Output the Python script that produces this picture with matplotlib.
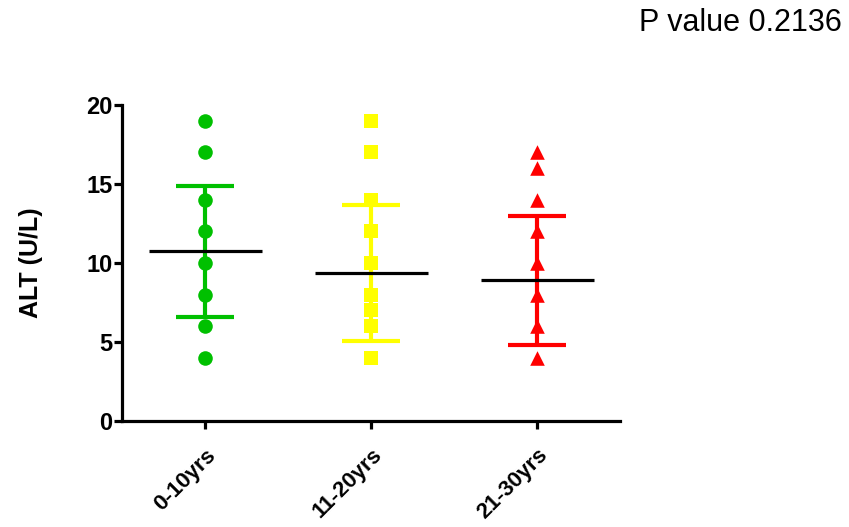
import numpy as np
import matplotlib
matplotlib.use('Agg')
import matplotlib.pyplot as plt
from matplotlib.transforms import ScaledTranslation

plt.rcParams['font.family'] = ['Liberation Sans', 'DejaVu Sans']

groups = ['0-10yrs', '11-20yrs', '21-30yrs']
colors = ['#00c000', '#ffff00', '#ff0000']
markers = ['o', 's', '^']

# individual ALT values per age group
alt_0_10 = [19, 17, 14, 12, 10, 8, 6, 4]
alt_11_20 = [19, 17, 14, 12, 10, 8, 7, 6, 4]
alt_21_30 = [17, 16, 14, 12, 10, 8, 6, 4]
values = [alt_0_10, alt_11_20, alt_21_30]

# mean and SD
means = [10.75, 9.35, 8.9]
sds = [4.15, 4.3, 4.07]

fig = plt.figure(figsize=(8.49, 5.27), dpi=100)
ax = fig.add_axes([0.1437, 0.201, 0.587, 0.5996])

for i, vals in enumerate(values):
    x = np.full(len(vals), i)
    ax.errorbar(i, means[i], yerr=sds[i], color=colors[i], lw=3.0,
                capsize=21, capthick=3.0, zorder=2)
    ax.scatter(x, vals, marker=markers[i], color=colors[i], s=110,
               zorder=3, linewidths=0)
    ax.hlines(means[i], i - 0.34, i + 0.34, color='black', lw=2.3, zorder=4)

ax.set_xlim(-0.5, 2.5)
ax.set_ylim(0, 20)
ax.set_yticks([0, 5, 10, 15, 20])
ax.set_xticks(range(len(groups)))
ax.set_xticklabels(groups, rotation=45, ha='right', va='top',
                   rotation_mode='anchor', fontweight='bold', fontsize=16)
shift = ScaledTranslation(-6 / 100, 0, fig.dpi_scale_trans)
for lab in ax.get_xticklabels():
    lab.set_transform(lab.get_transform() + shift)
for lab in ax.get_yticklabels():
    lab.set_fontweight('bold')
    lab.set_fontsize(17)

ax.spines['top'].set_visible(False)
ax.spines['right'].set_visible(False)
ax.spines['left'].set_linewidth(2.3)
ax.spines['bottom'].set_linewidth(2.3)
ax.tick_params(axis='both', width=2.3, length=6, pad=1)
ax.tick_params(axis='x', pad=11)

ax.set_ylabel('ALT (U/L)', fontsize=18, fontweight='bold', labelpad=31)
fig.text(0.992, 0.957, 'P value 0.2136', fontsize=22, ha='right', va='center')

fig.savefig('out.png', dpi=100)
